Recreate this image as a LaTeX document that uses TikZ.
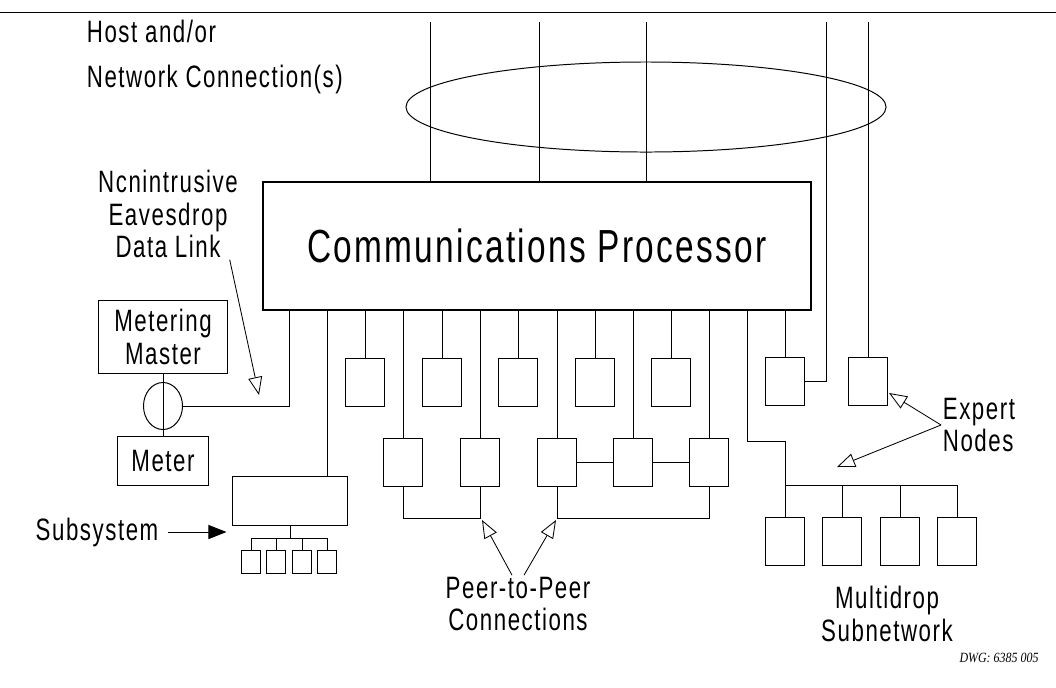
\documentclass[tikz,border=0pt]{standalone}
\usepackage{fontspec}
\setmainfont{Liberation Sans}[FakeStretch=0.72, LetterSpace=5]
\newfontfamily\dwgfont{Liberation Serif}[FakeStretch=0.85]
\usepackage{tikz}
\usetikzlibrary{shapes.geometric, arrows.meta, positioning, calc}

\begin{document}
\begin{tikzpicture}[
    x=0.025cm, y=-0.025cm,
    line width=0.7pt,
    unit/.style={rectangle, draw, inner sep=0pt, minimum width=0.975cm, minimum height=1.2cm},
    tinyunit/.style={rectangle, draw, inner sep=0pt, minimum width=0.475cm, minimum height=0.575cm},
    lbl/.style={font=\fontsize{22}{23}\selectfont, align=center, inner sep=1pt},
    arr/.style={-{Triangle[open, length=0.45cm, width=0.35cm]}, line width=0.6pt},
    arrfill/.style={-{Triangle[length=0.45cm, width=0.35cm]}, line width=0.7pt}
]
\useasboundingbox (0,0) rectangle (1056,687);

% top rule
\draw (0,12) -- (1056,12);

% host and network side
\node[lbl, align=left, anchor=west] (host) at (85,57) {Host and/or\\[0.32cm]Network Connection(s)};
\node[draw, ellipse, minimum width=12cm, minimum height=2.25cm] (net) at (646,107) {};
\foreach \hx [count=\i] in {430,539,646,826,868}
  \coordinate (h\i) at (\hx,22);

% processor
\node[draw, line width=0.9pt, minimum width=13.7cm, minimum height=3.2cm, font=\fontsize{33}{36}\selectfont] (cp) at (537,246) {Communications Processor};

% units under the processor
\foreach \ux [count=\i] in {365,442,518,595,671}
  \node[unit] (u\i) at (\ux,382) {};
\node[unit] (r1) at (785,381) {};
\node[unit] (x1) at (868,381) {};
\foreach \lx [count=\i] in {403,480,557,633,709}
  \node[unit] (l\i) at (\lx,462) {};
\foreach \mx [count=\i] in {785,842,900,957}
  \node[unit] (m\i) at (\mx,541) {};

% subsystem
\node[draw, inner sep=0pt, minimum width=2.85cm, minimum height=1.225cm] (sub) at (290,501) {};
\foreach \sx [count=\i] in {251,276,302,327}
  \node[tinyunit] (s\i) at (\sx,562) {};

% metering
\node[draw, lbl, inner sep=0pt, minimum width=3.2cm, minimum height=1.825cm] (mm) at (163,337) {Metering\\Master};
\node[draw, ellipse, inner sep=0pt, minimum width=0.975cm, minimum height=1.175cm] (cpl) at (163,406) {};
\node[draw, lbl, inner sep=0pt, minimum width=2.25cm, minimum height=1.225cm] (mt) at (163,461) {Meter};

% labels
\node[lbl] (eav) at (168,214) {Ncnintrusive\\Eavesdrop\\Data Link};
\node[lbl] (subl) at (97,532) {Subsystem};
\node[lbl] (peer) at (518,604) {Peer-to-Peer\\Connections};
\node[lbl, align=left, anchor=west] (expert) at (941,425) {Expert\\Nodes};
\node[lbl] (multi) at (887,614) {Multidrop\\Subnetwork};
\node[font=\dwgfont\fontsize{10}{12}\selectfont\itshape] (dwg) at (999,658) {DWG: 6385 005};

% host lines
\foreach \i in {1,2,3}
  \draw (h\i) -- (h\i |- cp.north);
\draw (h4) |- (r1.east);
\draw (h5) -- (x1.north);

% drops from the processor
\foreach \i in {1,...,5} {
  \draw (u\i.north) -- (u\i.north |- cp.south);
  \draw (l\i.north) -- (l\i.north |- cp.south);
}
\draw (r1.north) -- (r1.north |- cp.south);
\draw (l3.east) -- (l4.west);
\draw (l4.east) -- (l5.west);

% peer-to-peer
\draw (l1.south) -- ++(0,32) -| (l2.south);
\draw (l3.south) -- ++(0,32) -| (l5.south);

% subsystem bus
\draw (sub.north -| 327,0) -- (cp.south -| 327,0);
\draw (sub.south) -- ++(0,12);
\draw (s1.north |- 0,538) -- (s4.north |- 0,538);
\foreach \i in {1,...,4}
  \draw (s\i.north) -- (s\i.north |- 0,538);

% multidrop
\draw (cp.south -| 747,0) |- (m1.north |- 0,441) -- (m1.north);
\draw (m1.north |- 0,485) -- (m4.north |- 0,485);
\foreach \i in {2,3,4}
  \draw (m\i.north) -- (m\i.north |- 0,485);

% metering link
\draw (mm.south) -- (mt.north);
\draw (cpl.east) -| (cp.south -| 289,0);

% callouts
\coordinate (eavtip) at (259,395);
\coordinate (p1tip) at (482,520);
\coordinate (p2tip) at (556,520);
\coordinate (x1tip) at (889,393);
\coordinate (m0tip) at (837,467);
\draw[arr] ([xshift=-0.25cm]eav.south east) -- (eavtip);
\draw[arrfill] ([xshift=0.2cm]subl.east) -- ([xshift=-0.15cm]sub.west |- subl.east);
\draw[arr] ([xshift=-0.15cm]peer.north) -- (p1tip);
\draw[arr] ([xshift=0.15cm]peer.north) -- (p2tip);
\draw[arr] (expert.west) -- (x1tip);
\draw[arr] (expert.west) -- (m0tip);

\end{tikzpicture}
\end{document}
